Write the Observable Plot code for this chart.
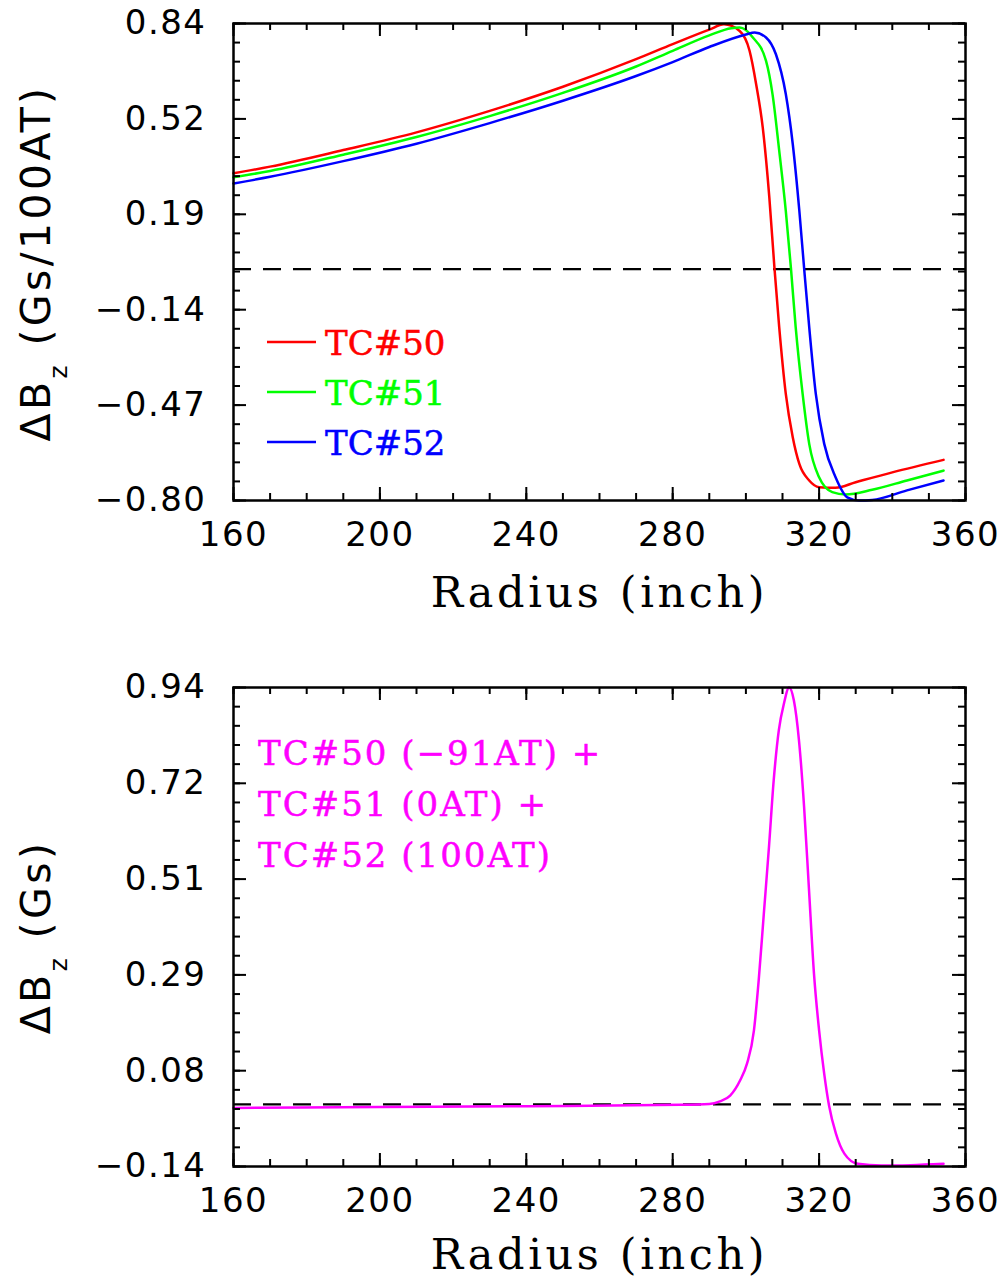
<!DOCTYPE html>
<html>
<head>
<meta charset="utf-8">
<script src="https://cdn.jsdelivr.net/npm/d3@7"></script>
<script src="https://cdn.jsdelivr.net/npm/@observablehq/plot@0.6"></script>
<style>
  html, body { margin: 0; padding: 0; background: #fff; }
  #chart svg { display: block; }
</style>
</head>
<body>
<div id="chart"></div>
<script>
// ---------- data ----------
const xTicks = [160, 200, 240, 280, 320, 360];
const xLabel = "Radius (inch)";

const topYLabels = ["−0.80", "−0.47", "−0.14", "0.19", "0.52", "0.84"];
const topYDomain = [-0.797, 0.846];
const botYLabels = ["−0.14", "0.08", "0.29", "0.51", "0.72", "0.94"];
const botYDomain = [-0.14, 0.94];

const seriesNames = ["TC#50", "TC#51", "TC#52"];
const seriesColors = ["#ff0000", "#00ff00", "#0000ff"];

const tc50R = [160, 170, 190, 210, 230, 250, 270, 280, 290, 294, 298.3, 301, 302.8, 304.6, 306.4, 307.8, 309.1, 310.9, 312.8, 314.6, 317.3, 320, 324.5, 330, 340, 354];
const tc50B = [0.330, 0.353, 0.410, 0.471, 0.545, 0.628, 0.723, 0.775, 0.825, 0.843, 0.820, 0.752, 0.637, 0.488, 0.247, 0.004, -0.200, -0.430, -0.579, -0.671, -0.728, -0.751, -0.753, -0.734, -0.700, -0.657];

const tc51R = [160, 170, 190, 210, 230, 250, 270, 280, 290, 296, 298.3, 301.9, 305.5, 307.3, 309.1, 310.9, 312.3, 313.6, 315.5, 317.3, 320, 323.6, 327.2, 334.5, 344, 354];
const tc51B = [0.316, 0.338, 0.394, 0.455, 0.527, 0.607, 0.698, 0.752, 0.805, 0.830, 0.832, 0.798, 0.717, 0.600, 0.408, 0.201, 0.004, -0.200, -0.430, -0.602, -0.717, -0.768, -0.776, -0.760, -0.728, -0.694];

const tc52R = [160, 170, 190, 210, 230, 250, 270, 280, 290, 300, 302.4, 305.5, 308.2, 310.9, 312.8, 314.6, 315.9, 317.3, 319.1, 321.4, 324.5, 327.7, 330.9, 334.5, 344, 354];
const tc52B = [0.295, 0.318, 0.372, 0.432, 0.503, 0.580, 0.665, 0.713, 0.765, 0.808, 0.815, 0.798, 0.740, 0.603, 0.431, 0.201, 0.004, -0.200, -0.430, -0.602, -0.717, -0.786, -0.797, -0.795, -0.762, -0.728];

const sumR = [160, 200, 240, 282, 290, 292.9, 295.7, 298.4, 300.3, 302.2, 303.5, 304.9, 306.3, 307.6, 309, 310.4, 311.8, 313.1, 314.5, 315.9, 317.2, 318.6, 320, 321.4, 322.7, 324.6, 326.9, 330.6, 337, 345, 354];
const sumB = [-0.008, -0.006, -0.004, -0.001, 0.001, 0.007, 0.020, 0.054, 0.092, 0.167, 0.280, 0.430, 0.580, 0.731, 0.844, 0.904, 0.940, 0.911, 0.821, 0.671, 0.490, 0.295, 0.167, 0.069, -0.002, -0.066, -0.111, -0.134, -0.138, -0.137, -0.134];
const sumColor = "#ff00ff";
const sumLines = ["TC#50 (−91AT) +", "TC#51 (0AT) +", "TC#52 (100AT)"];

// ---------- layout ----------
const WIDTH = 1003, ML = 233, MR = 38;
const FW = WIDTH - ML - MR;
const TICK_FONT = "DejaVu Sans";
const SERIF = "DejaVu Serif";

function toRows(R, B, name) { return R.map((r, i) => ({r, b: B[i], name})); }

function panel({height, marginTop, marginBottom, yDomain, yLabels, lineMarks, labelDy}) {
  const FH = height - marginTop - marginBottom;
  const [lo, hi] = yDomain;
  const yMajor = yLabels.map((_, i) => lo + i * (hi - lo) / 5);
  const yMinor = d3.range(26).map(i => lo + i * (hi - lo) / 25);
  const xMinor = d3.range(160, 361, 10);
  const fmt = d => yLabels[Math.round((d - lo) / (hi - lo) * 5)];
  const tk = {strokeWidth: 2, stroke: "black"};
  return Plot.plot({
    width: WIDTH, height, marginLeft: ML, marginRight: MR, marginTop, marginBottom,
    style: {fontFamily: TICK_FONT, background: "white", color: "black"},
    x: {domain: [160, 360], label: null},
    y: {domain: yDomain, label: null},
    marks: [
      Plot.ruleY([0], {stroke: "black", strokeWidth: 2.2, strokeDasharray: "18,12"}),
      ...lineMarks,
      Plot.tickX(xMinor, {x: d => d, insetTop: FH - 7, ...tk}),
      Plot.tickX(xMinor, {x: d => d, insetBottom: FH - 7, ...tk}),
      Plot.tickX(xTicks, {x: d => d, insetTop: FH - 13, ...tk}),
      Plot.tickX(xTicks, {x: d => d, insetBottom: FH - 13, ...tk}),
      Plot.tickY(yMinor, {y: d => d, insetRight: FW - 7, ...tk}),
      Plot.tickY(yMinor, {y: d => d, insetLeft: FW - 7, ...tk}),
      Plot.tickY(yMajor, {y: d => d, insetRight: FW - 13, ...tk}),
      Plot.tickY(yMajor, {y: d => d, insetLeft: FW - 13, ...tk}),
      Plot.frame({stroke: "black", strokeWidth: 2.5}),
      Plot.axisX(xTicks, {tickSize: 0, tickPadding: 21, fontSize: 34, fontFamily: TICK_FONT, label: null}),
      Plot.axisY(yMajor, {tickSize: 0, tickPadding: 27, tickFormat: fmt, fontSize: 34, fontFamily: TICK_FONT, label: null}),
      Plot.text([xLabel], {frameAnchor: "bottom", dy: labelDy, lineAnchor: "middle", fontFamily: SERIF, fontSize: 43, fill: "black"})
    ]
  });
}

function yTitle(svg, cx, cy, main, rest) {
  const t = d3.select(svg).append("text")
    .attr("transform", `translate(${cx},${cy}) rotate(-90)`)
    .attr("text-anchor", "middle")
    .attr("font-family", TICK_FONT)
    .attr("font-size", 41)
    .attr("letter-spacing", 3.4)
    .attr("fill", "black");
  t.append("tspan").text(main);
  t.append("tspan").attr("dy", 17).attr("font-size", 25).text("z");
  t.append("tspan").attr("dy", -17).text(rest);
}

function spaceOut(svg) {
  // wider letter spacing, as in the reference's lettering
  d3.select(svg).selectAll("text").filter(function () { return this.textContent === xLabel; })
    .attr("letter-spacing", 3.6);
  d3.select(svg).selectAll('g[aria-label="x-axis tick label"] text, g[aria-label="y-axis tick label"] text')
    .attr("letter-spacing", 1.5);
}

const chart = document.getElementById("chart");

// ---------- top panel ----------
const topLines = [[tc50R, tc50B], [tc51R, tc51B], [tc52R, tc52B]].map(([R, B], i) =>
  Plot.line(toRows(R, B, seriesNames[i]), {x: "r", y: "b", stroke: seriesColors[i], strokeWidth: 2.5, curve: "monotone-x"}));
const topSvg = panel({height: 640, marginTop: 23, marginBottom: 140, yDomain: topYDomain, yLabels: topYLabels, lineMarks: topLines, labelDy: 93});
chart.appendChild(topSvg);
spaceOut(topSvg);
yTitle(topSvg, 50, 263, "ΔB", " (Gs/100AT)");
{
  const g = d3.select(topSvg).append("g").attr("aria-label", "legend").attr("text-anchor", "start");
  seriesNames.forEach((name, i) => {
    const yb = 355 + 50 * i;
    g.append("line").attr("x1", 267).attr("x2", 316).attr("y1", yb - 13).attr("y2", yb - 13)
      .attr("stroke", seriesColors[i]).attr("stroke-width", 2.5);
    g.append("text").attr("x", 325).attr("y", yb).attr("text-anchor", "start").text(name)
      .attr("font-family", SERIF).attr("font-size", 34)
      .attr("fill", seriesColors[i]).attr("stroke", seriesColors[i]).attr("stroke-width", 0.5);
  });
}

// ---------- bottom panel ----------
const botLines = [Plot.line(toRows(sumR, sumB, "sum"), {x: "r", y: "b", stroke: sumColor, strokeWidth: 2.5, curve: "monotone-x"})];
const botSvg = panel({height: 643, marginTop: 47, marginBottom: 117, yDomain: botYDomain, yLabels: botYLabels, lineMarks: botLines, labelDy: 89});
chart.appendChild(botSvg);
spaceOut(botSvg);
yTitle(botSvg, 50, 297, "ΔB", " (Gs)");
{
  const g = d3.select(botSvg).append("g").attr("aria-label", "annotation").attr("text-anchor", "start");
  sumLines.forEach((s, i) => {
    g.append("text").attr("x", 258).attr("y", 125 + 51 * i).attr("text-anchor", "start").text(s)
      .attr("font-family", SERIF).attr("font-size", 34).attr("letter-spacing", 2)
      .attr("fill", sumColor).attr("stroke", sumColor).attr("stroke-width", 0.5)
      .style("white-space", "pre");
  });
}
</script>
</body>
</html>
